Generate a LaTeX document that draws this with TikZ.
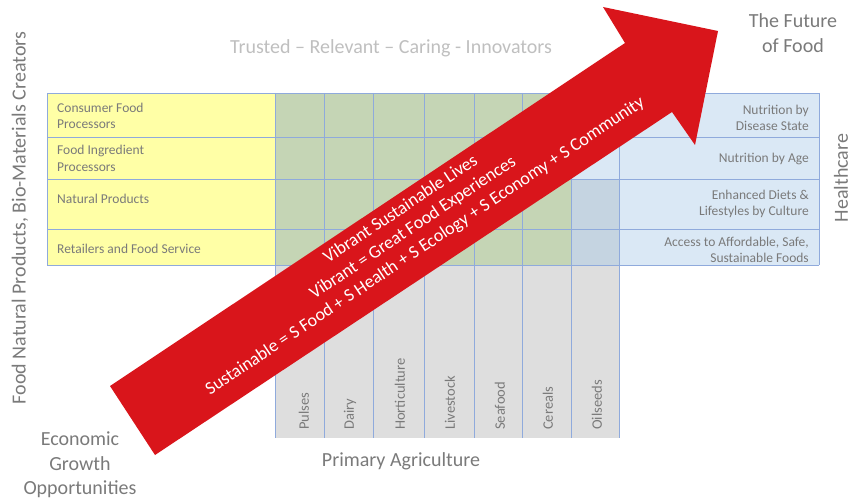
\documentclass[tikz,border=0pt]{standalone}
\usepackage{fontspec}
\setmainfont{Carlito}
\definecolor{rowyellow}{RGB}{255,255,166}
\definecolor{cellgreen}{RGB}{197,213,181}
\definecolor{cellblue}{RGB}{218,232,245}
\definecolor{cellgray}{RGB}{222,222,222}
\definecolor{cellmix}{RGB}{197,212,225}
\definecolor{gridblue}{RGB}{143,170,220}
\definecolor{arrowred}{RGB}{217,21,27}
\definecolor{txtgray}{RGB}{122,122,122}
\definecolor{palegray}{RGB}{191,191,191}
\begin{document}
\begin{tikzpicture}[x=1pt, y=-1pt, text=txtgray,
    font=\fontsize{13.5}{16.5}\selectfont,
    grid/.style={draw=gridblue, line width=0.9pt},
    big/.style={font=\fontsize{20}{24.5}\selectfont}]
\useasboundingbox (0,0) rectangle (854,500);

\fill[rowyellow] (47,93) rectangle (275,265);
\fill[cellblue] (571,93) rectangle (819,265);
\fill[cellgreen] (275,93) rectangle (571,265);
\fill[cellgray] (275,265) rectangle (619,438);
\fill[cellmix] (571,179) rectangle (619,265);

\foreach \y in {93,137,179,229,265}
    \draw[grid] (47,\y)--(819,\y);
\draw[grid] (47,93)--(47,265);
\draw[grid] (819,93)--(819,265);
\foreach \x in {275,324,373,424,474,522,571,619}
    \draw[grid] (\x,93)--(\x,438);

\foreach \y/\name/\txt in {116/consumer/{Consumer Food\\Processors},
    158.5/ingredient/{Food Ingredient\\Processors},
    199/natural/{Natural Products},
    249/retail/{Retailers and Food Service}}
{
    \node[anchor=west, align=left, inner sep=0] (\name) at (57,\y) {\txt};
}

\foreach \y/\name/\txt in {118/disease/{Nutrition by\\Disease State},
    159/age/{Nutrition by Age},
    204/culture/{Enhanced Diets \&\\Lifestyles by Culture},
    250/access/{Access to Affordable, Safe,\\Sustainable Foods}}
{
    \node[anchor=east, align=right, inner sep=0] (\name) at (809,\y) {\txt};
}

\foreach \x/\crop in {304/Pulses,350/Dairy,400/Horticulture,450/Livestock,500/Seafood,548/Cereals,597/Oilseeds}
{
    \node[rotate=90, anchor=west, inner sep=0, font=\fontsize{14.5}{17}\selectfont] (\crop) at (\x,430) {\crop};
}

\node[big, text=palegray] (motto) at (391,48) {Trusted – Relevant – Caring - Innovators};
\node[big, align=center] (future) at (793,33) {The Future\\of Food};
\node[big, align=center] (growth) at (80,465) {Economic\\Growth\\Opportunities};
\node[big] (primary) at (401,461) {Primary Agriculture};
\node[big, rotate=90] (creators) at (20,218) {Food Natural Products, Bio-Materials Creators};
\node[big, rotate=90, inner sep=0] (health) at (841,178) {Healthcare};

\fill[arrowred] (110,386)--(625,43)--(603,7)--(718,31)--(695,145)--(672,112)--(155,455)--cycle;
\node[rotate=33.7, text=white, align=center, font=\fontsize{18}{22}\selectfont] (vibrant) at (413,228)
    {Vibrant Sustainable Lives\\Vibrant = Great Food Experiences\\Sustainable = S Food + S Health + S Ecology + S Economy + S Community};
\end{tikzpicture}
\end{document}
